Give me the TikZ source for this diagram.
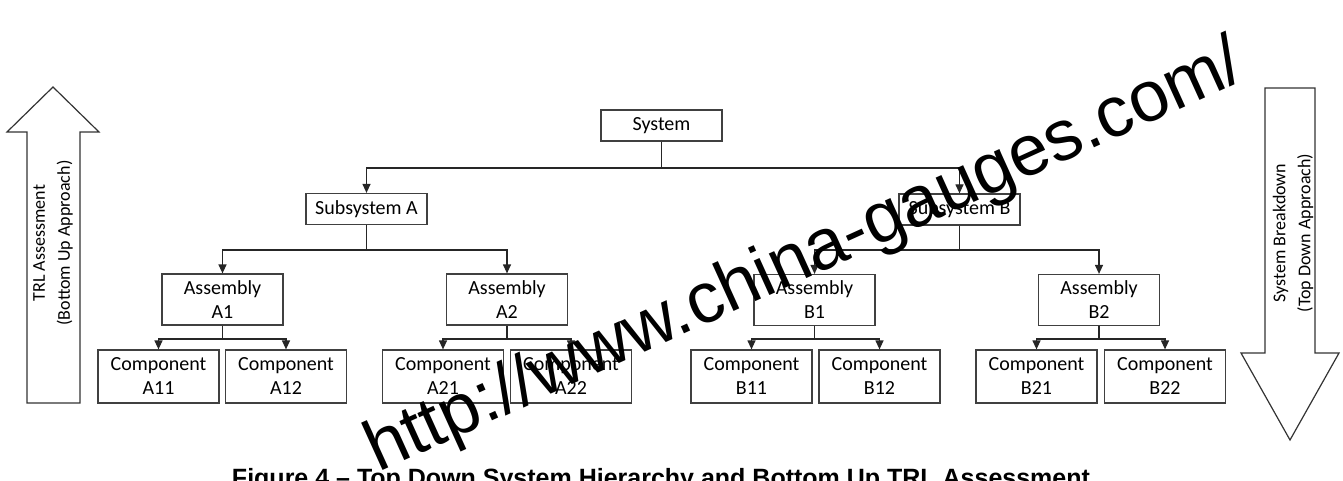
\documentclass[tikz,border=0pt]{standalone}
\usepackage{fontspec}
\setmainfont{Carlito}
\newfontfamily\capfont{Liberation Sans}
\usetikzlibrary{arrows.meta}
\begin{document}
\begin{tikzpicture}[x=1pt,y=-1pt,
  box/.style={draw=black!75, line width=1.2pt, fill=white, minimum width=121pt,
    inner sep=0pt, align=center, font=\fontsize{20}{24}\selectfont},
  sbox/.style={box, minimum height=31pt},
  abox/.style={box, minimum height=51pt},
  cbox/.style={box, minimum height=53pt},
  conn/.style={line width=1.2pt, draw=black!85},
  arr/.style={conn, -{Triangle[length=9pt,width=8pt]}},
  bigarrow/.style={draw=black!80, line width=1.2pt, line join=miter},
  sidetext/.style={rotate=90, align=center, font=\fontsize{18}{25}\selectfont, inner sep=0pt}]
\useasboundingbox (0,0) rectangle (1343,481);
\clip (0,0) rectangle (1343,481);
\fill[white] (0,0) rectangle (1343,481);

% boxes
\node[sbox] (sys) at (661.5,125.5) {System};
\node[sbox] (subA) at (366.5,209) {Subsystem A};
\node[sbox] (subB) at (959.5,209.5) {Subsystem B};
\node[abox] (a1) at (222.5,299.5) {Assembly\\A1};
\node[abox] (a2) at (507,299.5) {Assembly\\A2};
\node[abox] (b1) at (814.5,300) {Assembly\\B1};
\node[abox] (b2) at (1099,300) {Assembly\\B2};
\node[cbox] (a11) at (158.5,376.5) {Component\\A11};
\node[cbox] (a12) at (286,376.5) {Component\\A12};
\node[cbox] (a21) at (443,376.5) {Component\\A21};
\node[cbox] (a22) at (571,376.5) {Component\\A22};
\node[cbox] (b11) at (751.5,376.5) {Component\\B11};
\node[cbox] (b12) at (879.5,376.5) {Component\\B12};
\node[cbox] (b21) at (1036.5,376.5) {Component\\B21};
\node[cbox] (b22) at (1165,376.5) {Component\\B22};

% buses
\coordinate (bus0) at (0,168);
\coordinate (bus1) at (0,250);
\coordinate (bus2) at (0,339);

\draw[conn] (sys.south) -- (sys.south |- bus0);
\draw[arr] (sys.south |- bus0) -| (subA.north);
\draw[arr] (sys.south |- bus0) -| (subB.north);

\draw[conn] (subA.south) -- (subA.south |- bus1);
\draw[arr] (subA.south |- bus1) -| (a1.north);
\draw[arr] (subA.south |- bus1) -| (a2.north);
\draw[conn] (subB.south) -- (subB.south |- bus1);
\draw[arr] (subB.south |- bus1) -| (b1.north);
\draw[arr] (subB.south |- bus1) -| (b2.north);

\foreach \p/\l/\r in {a1/a11/a12, a2/a21/a22, b1/b11/b12, b2/b21/b22}{
  \draw[conn] (\p.south) -- (\p.south |- bus2);
  \draw[arr] (\p.south |- bus2) -| (\l.north);
  \draw[arr] (\p.south |- bus2) -| (\r.north);
}

% big side arrows
\draw[bigarrow] (53,87) -- (99,132) -- (80,132) -- (80,403) -- (27,403) -- (27,132) -- (7,132) -- cycle;
\draw[bigarrow] (1265,88) -- (1315,88) -- (1315,353) -- (1339,353) -- (1290,440) -- (1241,353) -- (1265,353) -- cycle;
\node[sidetext] (trl) at (53,243) {TRL Assessment\\(Bottom Up Approach)};
\node[sidetext] (sbd) at (1293,233) {System Breakdown\\(Top Down Approach)};

% caption
\node[font=\capfont\bfseries\fontsize{25}{30}\selectfont, anchor=base, inner sep=0pt] (cap) at (661,486)
  {Figure 4 – Top Down System Hierarchy and Bottom Up TRL Assessment};

% watermark
\node[font=\capfont\fontsize{71.6}{80}\selectfont, rotate=24.4, anchor=base west, inner sep=0pt] (wm) at (378,473)
  {http://www.china-gauges.com/};
\end{tikzpicture}
\end{document}
